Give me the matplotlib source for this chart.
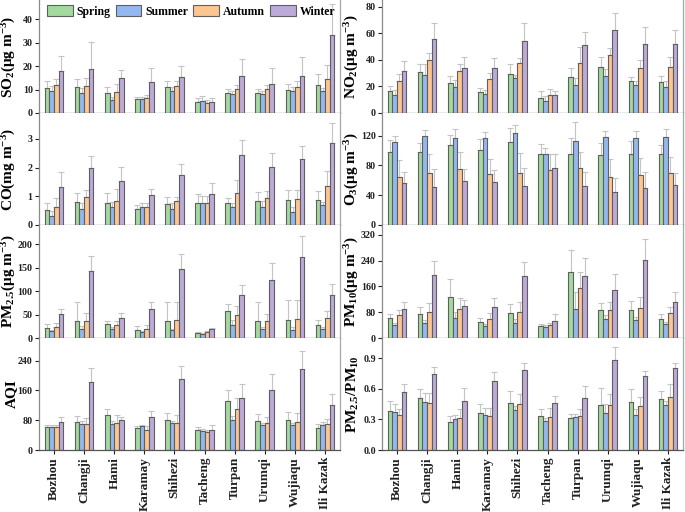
import matplotlib
matplotlib.use("Agg")
import matplotlib.pyplot as plt
import numpy as np

plt.rcParams['font.family'] = ['Liberation Serif', 'DejaVu Serif']
plt.rcParams['font.weight'] = 'bold'
plt.rcParams['mathtext.fontset'] = 'custom'
plt.rcParams['mathtext.rm'] = 'Liberation Serif:bold'
plt.rcParams['mathtext.it'] = 'Liberation Serif:italic:bold'
plt.rcParams['mathtext.bf'] = 'Liberation Serif:bold'

cities = ['Bozhou', 'Changji', 'Hami', 'Karamay', 'Shihezi', 'Tacheng',
          'Turpan', 'Urumqi', 'Wujiaqu', 'Ili Kazak']
seasons = ['Spring', 'Summer', 'Autumn', 'Winter']

# mean values per season (Spring, Summer, Autumn, Winter) and error-bar tops
so2_mean = [[10.6, 11.1, 8.4, 6.0, 11.1, 4.7, 8.5, 8.5, 9.9, 11.9],
            [9.6, 8.5, 5.7, 6.0, 9.5, 5.1, 8.2, 8.2, 9.6, 9.6],
            [12.0, 11.5, 8.9, 6.5, 11.5, 4.1, 10.2, 10.2, 11.1, 14.6],
            [18.0, 18.7, 14.8, 13.2, 15.3, 4.7, 15.9, 12.3, 15.9, 33.3]]
so2_top = [[13.8, 14.5, 11.1, 6.8, 13.6, 6.4, 10.2, 10.2, 12.5, 16.6],
           [11.6, 10.6, 7.0, 6.8, 11.0, 7.1, 9.2, 9.2, 10.9, 10.6],
           [14.6, 14.9, 12.3, 7.8, 13.6, 5.7, 11.9, 12.1, 13.5, 20.4],
           [24.4, 30.2, 18.2, 19.1, 19.9, 6.2, 23.0, 19.1, 24.1, 46.5]]

no2_mean = [[16.8, 30.8, 22.8, 15.8, 29.5, 11.5, 26.8, 34.8, 24.3, 23.3],
            [13.8, 28.8, 19.5, 14.5, 26.0, 9.3, 21.3, 28.0, 20.8, 19.8],
            [24.3, 39.8, 31.8, 25.8, 37.3, 13.8, 37.8, 43.3, 33.8, 34.8],
            [31.8, 55.5, 33.8, 33.8, 54.3, 13.8, 50.8, 62.5, 52.0, 52.0]]
no2_top = [[20.0, 36.8, 28.0, 18.8, 36.8, 16.8, 33.8, 42.5, 26.8, 28.0],
           [17.5, 36.8, 25.0, 17.5, 28.8, 12.5, 26.3, 33.3, 23.8, 24.3],
           [29.3, 45.0, 36.8, 30.0, 41.3, 18.0, 50.0, 48.8, 40.0, 41.8],
           [39.0, 67.5, 41.8, 41.3, 68.0, 16.3, 60.8, 75.0, 64.5, 62.5]]

co_mean = [[0.53, 0.79, 0.77, 0.56, 0.74, 0.76, 0.76, 0.84, 0.88, 0.88],
           [0.33, 0.56, 0.61, 0.63, 0.56, 0.76, 0.62, 0.61, 0.47, 0.70],
           [0.61, 0.98, 0.84, 0.64, 0.82, 0.76, 1.11, 0.93, 0.91, 1.37],
           [1.33, 2.00, 1.52, 1.03, 1.75, 1.07, 2.43, 2.01, 2.30, 2.86]]
co_top = [[0.78, 1.11, 1.11, 0.70, 0.96, 1.07, 0.93, 1.14, 1.23, 1.20],
          [0.49, 0.76, 0.79, 0.78, 0.78, 1.02, 0.76, 0.84, 0.61, 0.79],
          [0.93, 1.23, 1.25, 0.76, 0.99, 1.02, 1.58, 1.17, 1.23, 1.87],
          [1.84, 2.42, 2.02, 1.25, 2.12, 1.46, 2.95, 2.51, 2.74, 3.55]]

o3_mean = [[97.6, 97.6, 107.0, 100.8, 111.0, 95.0, 95.0, 93.6, 95.0, 95.0],
           [111.0, 120.0, 116.4, 117.3, 124.0, 95.0, 112.4, 118.2, 116.4, 117.8],
           [64.0, 69.4, 75.2, 68.5, 69.4, 73.9, 76.1, 64.0, 67.2, 69.4],
           [56.0, 50.6, 59.6, 57.3, 52.0, 77.0, 52.0, 44.8, 49.3, 53.7]]
o3_top = [[113.7, 109.7, 120.9, 115.0, 129.9, 108.4, 116.4, 109.7, 112.8, 107.5],
          [119.6, 127.6, 128.5, 124.5, 134.0, 103.0, 138.0, 126.3, 126.3, 128.5],
          [86.9, 95.0, 98.5, 88.2, 96.7, 95.0, 97.6, 88.2, 89.6, 90.9],
          [71.6, 74.8, 74.8, 73.4, 76.1, 95.0, 71.6, 62.7, 71.6, 69.4]]

pm25_mean = [[21.5, 36.6, 29.4, 17.2, 36.6, 10.8, 58.0, 35.8, 38.7, 28.0],
             [15.0, 19.4, 19.4, 12.2, 17.2, 8.6, 28.0, 19.4, 17.2, 18.6],
             [23.7, 36.6, 27.2, 19.4, 38.0, 12.2, 48.7, 36.6, 40.1, 41.6],
             [50.2, 142.0, 43.0, 62.4, 148.0, 18.6, 91.8, 123.0, 173.5, 91.0]]
pm25_top = [[29.4, 76.7, 37.3, 25.8, 76.7, 13.6, 73.0, 76.7, 80.3, 38.0],
            [18.0, 25.8, 24.4, 15.0, 19.4, 11.5, 38.7, 24.4, 24.4, 23.7],
            [31.5, 53.0, 37.3, 28.0, 76.7, 15.0, 68.8, 51.0, 80.3, 56.6],
            [62.4, 175.0, 53.0, 76.7, 180.0, 22.2, 113.0, 160.0, 216.5, 116.0]]

pm10_mean = [[62.0, 74.6, 127.5, 48.7, 76.7, 36.3, 204.0, 86.0, 88.0, 58.0],
             [39.4, 46.6, 62.0, 36.3, 46.6, 33.2, 90.0, 58.0, 56.0, 43.5],
             [70.5, 80.8, 89.0, 58.0, 81.9, 41.5, 154.4, 86.0, 92.2, 78.8],
             [89.0, 196.0, 99.5, 95.3, 190.7, 51.8, 192.7, 148.0, 242.5, 112.0]]
pm10_top = [[73.6, 95.3, 182.4, 61.1, 104.7, 43.5, 272.0, 107.8, 115.0, 73.6],
            [45.6, 56.0, 81.9, 43.5, 58.0, 39.4, 144.0, 71.5, 66.3, 50.8],
            [87.0, 107.8, 123.3, 76.7, 111.0, 47.7, 204.0, 110.0, 126.4, 97.4],
            [111.0, 239.4, 117.0, 123.3, 235.0, 73.6, 247.7, 198.0, 306.5, 141.0]]

aqi_mean = [[61.8, 74.4, 94.0, 59.0, 81.5, 52.9, 132.6, 78.0, 81.5, 59.0],
            [61.8, 70.8, 70.0, 64.5, 71.7, 51.1, 81.5, 68.0, 66.3, 66.3],
            [61.8, 70.8, 72.6, 54.7, 72.6, 47.5, 110.2, 72.6, 76.2, 69.0],
            [75.3, 182.8, 80.6, 88.7, 190.9, 53.8, 139.8, 161.3, 218.5, 121.9]]
aqi_top = [[68.0, 92.3, 110.2, 65.4, 99.5, 61.8, 161.2, 97.7, 102.0, 69.9],
           [66.3, 77.0, 77.0, 68.0, 78.9, 57.3, 92.3, 72.6, 72.6, 74.4],
           [66.3, 86.0, 93.2, 63.6, 94.0, 54.7, 139.8, 87.8, 99.5, 83.3],
           [87.8, 220.0, 87.8, 105.7, 224.7, 66.3, 177.4, 205.0, 265.0, 150.5]]

ratio_mean = [[0.382, 0.511, 0.274, 0.363, 0.465, 0.333, 0.317, 0.438, 0.475, 0.504],
              [0.376, 0.468, 0.303, 0.346, 0.389, 0.280, 0.320, 0.359, 0.343, 0.438],
              [0.343, 0.465, 0.317, 0.336, 0.455, 0.326, 0.336, 0.438, 0.429, 0.524],
              [0.574, 0.742, 0.481, 0.673, 0.787, 0.458, 0.511, 0.883, 0.727, 0.801]]
ratio_top = [[0.481, 0.597, 0.330, 0.455, 0.580, 0.399, 0.356, 0.613, 0.603, 0.580],
             [0.448, 0.557, 0.343, 0.409, 0.432, 0.310, 0.356, 0.448, 0.399, 0.481],
             [0.405, 0.564, 0.399, 0.409, 0.554, 0.409, 0.399, 0.554, 0.524, 0.646],
             [0.646, 0.817, 0.613, 0.762, 0.853, 0.534, 0.626, 1.010, 0.774, 0.851]]

colors = ['#a3d99e', '#93b7ef', '#fdc590', '#bdaad8']
edge = '#5f5f5f'

panels = [
    # (row, col, mean, top, ylabel, ymax, yticks, ticklabels)
    (0, 0, so2_mean, so2_top, r'SO$_2$(μg m$^{-3}$)', 48.3, [0, 10, 20, 30, 40], None),
    (0, 1, no2_mean, no2_top, r'NO$_2$(μg m$^{-3}$)', 85, [0, 20, 40, 60, 80], None),
    (1, 0, co_mean, co_top, r'CO(mg m$^{-3}$)', 3.9, [0, 1, 2, 3], None),
    (1, 1, o3_mean, o3_top, r'O$_3$(μg m$^{-3}$)', 150.5, [0, 40, 80, 120], None),
    (2, 0, pm25_mean, pm25_top, r'PM$_{2.5}$(μg m$^{-3}$)', 241, [0, 50, 100, 150, 200], None),
    (2, 1, pm10_mean, pm10_top, r'PM$_{10}$(μg m$^{-3}$)', 350, [0, 80, 160, 240, 320], None),
    (3, 0, aqi_mean, aqi_top, 'AQI', 301, [0, 80, 160, 240], None),
    (3, 1, ratio_mean, ratio_top, r'PM$_{2.5}$/PM$_{10}$', 1.1, [0.0, 0.3, 0.6, 0.9],
     ['0.0', '0.3', '0.6', '0.9']),
]

W, H = 685, 512
fig = plt.figure(figsize=(W / 100, H / 100), dpi=100)
row_edges = [0, 113, 225, 338, 450]
col_left = [39, 382]
col_w = 301

x = np.arange(len(cities))
bw = 0.155
offsets = [-1.5 * bw, -0.5 * bw, 0.5 * bw, 1.5 * bw]

axes = {}
for (r, c, mean, top, ylab, ymax, yt, ytl) in panels:
    y0, y1 = row_edges[r], row_edges[r + 1]
    ax = fig.add_axes([col_left[c] / W, 1 - y1 / H, col_w / W, (y1 - y0) / H])
    axes[(r, c)] = ax
    for s in range(4):
        m = np.array(mean[s])
        t = np.array(top[s])
        xs = x + offsets[s]
        ax.bar(xs, m, width=bw, color=colors[s], edgecolor=edge, linewidth=0.8,
               label=seasons[s], zorder=2)
        ax.errorbar(xs, m, yerr=[np.zeros_like(m), t - m], fmt='none',
                    ecolor='#c4c4c4', elinewidth=0.8, capsize=2, capthick=0.8,
                    zorder=1, clip_on=False)
    ax.set_xlim(-0.5, 9.5)
    ax.set_ylim(0, ymax)
    ax.set_yticks(yt)
    if ytl is not None:
        ax.set_yticklabels(ytl)
    ax.set_xticks(x)
    if r == 3:
        ax.set_xticklabels(cities, rotation=90, fontsize=9.5, fontweight='bold')
    else:
        ax.set_xticklabels([])
    ax.tick_params(axis='y', labelsize=7.2, length=3, width=0.8, pad=1.5, colors='#222222')
    ax.tick_params(axis='x', length=3, width=0.8, pad=2, colors='#222222')
    for lab in ax.get_yticklabels():
        lab.set_fontweight('bold')
    ax.spines['top'].set_visible(False)
    ax.spines['right'].set_color('#a8a8a8')
    ax.spines['left'].set_color('#8a8a8a')
    ax.spines['bottom'].set_color('#555555')
    for sp in ax.spines.values():
        sp.set_linewidth(0.9)
    ax.set_ylabel(ylab, fontsize=11, fontweight='bold')
    ax.yaxis.set_label_coords(-0.07, 0.5)

ax0 = axes[(0, 0)]
ax0.legend(loc='center', bbox_to_anchor=(0.505, 0.898), ncol=4, frameon=False,
           prop={'family': 'Liberation Serif', 'weight': 'bold', 'size': 8.5},
           handlelength=2.2, handleheight=1.0, handletextpad=0.3,
           columnspacing=0.45, borderaxespad=0, borderpad=0)

fig.savefig('out.png', dpi=100)
